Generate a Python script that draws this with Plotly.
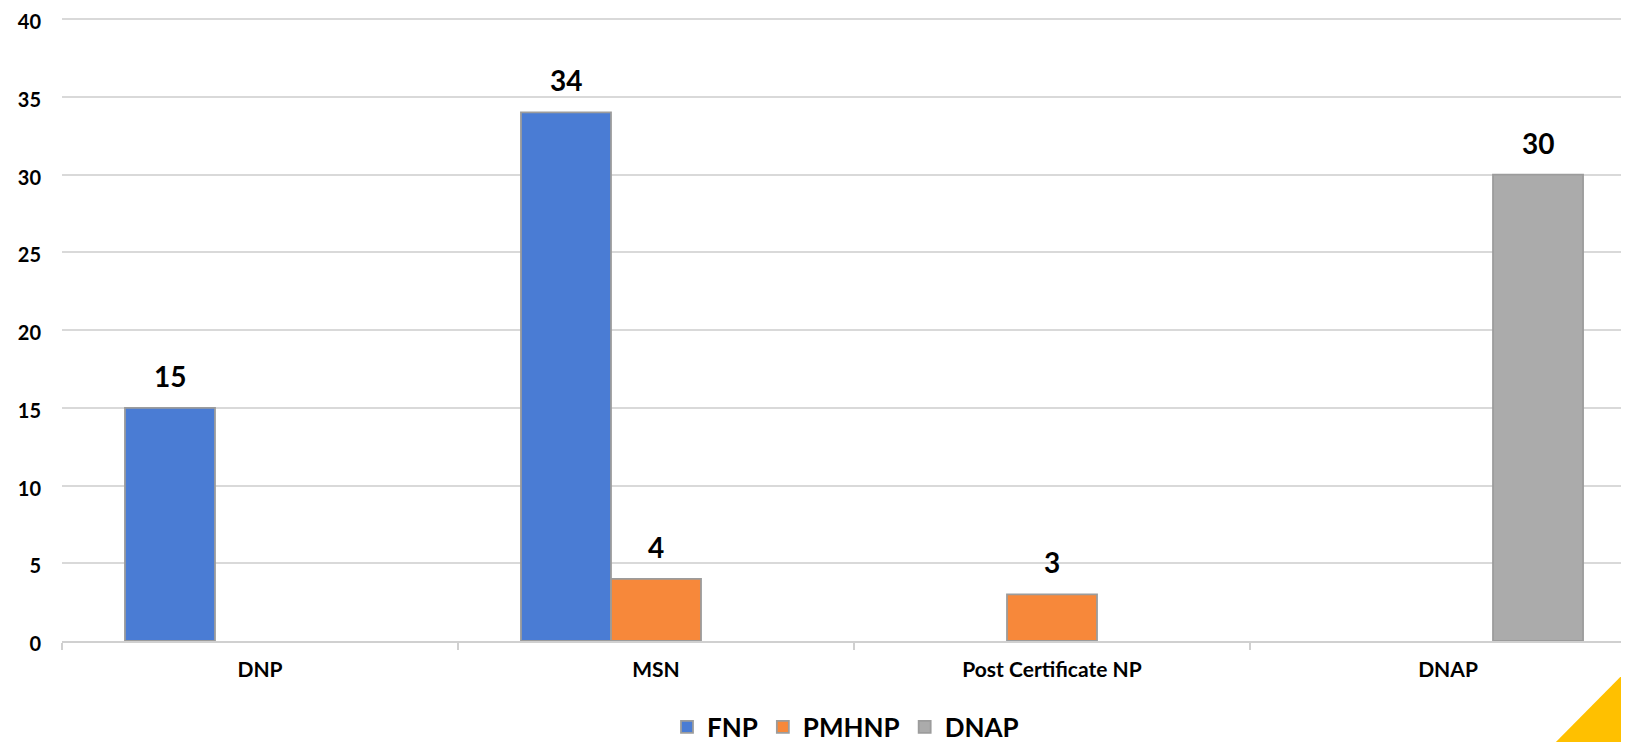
import plotly.graph_objects as go

categories = ["DNP", "MSN", "Post Certificate NP", "DNAP"]
series_names = ["FNP", "PMHNP", "DNAP"]
fnp = [15, 34, None, None]
pmhnp = [None, 4, 3, None]
dnap = [None, None, None, 30]
y_ticks = [0, 5, 10, 15, 20, 25, 30, 35, 40]
y_max = 40.2

colors = ["#4A7CD4", "#F7883A", "#ABABAB"]

# page body has an 8px margin; size the figure so it lands on the 1629x742 window
PAGE_OFF = 8
W, H = 1629 - PAGE_OFF, 742 - PAGE_OFF
px_per_unit = 622 / 40.0
ml, mr, mb = 62 - PAGE_OFF, 0, 101
mt = round(19 - PAGE_OFF - (y_max - 40) * px_per_unit)
cat_px = 396.0
plot_w = W - ml - mr
plot_h = H - mt - mb
x_span = plot_w / cat_px
bargap = 0.318
bar_px = (1 - bargap) / 3 * cat_px

FONT = "Lato, 'Open Sans', 'Liberation Sans', sans-serif"

fig = go.Figure()
all_series = [fnp, pmhnp, dnap]
for i, (name, vals) in enumerate(zip(series_names, all_series)):
    fig.add_trace(go.Bar(
        name=name, x=categories, y=vals,
        marker=dict(color=colors[i], line=dict(color="#9C9C9C", width=1.8)),
    ))

annotations = []
for i, vals in enumerate(all_series):
    for c, v in zip(categories, vals):
        if v is None:
            continue
        annotations.append(dict(
            x=c, y=v, xref="x", yref="y", text=str(v), showarrow=False,
            yanchor="bottom", xanchor="center", yshift=13,
            xshift=(i - 1) * bar_px,
            font=dict(family=FONT, size=28, color="#000000", weight="bold"),
        ))

legend_y = 1 - (727 - PAGE_OFF) / H

fig.update_layout(
    width=W, height=H,
    margin=dict(l=ml, r=mr, t=mt, b=mb, pad=0, autoexpand=False),
    paper_bgcolor="white", plot_bgcolor="white",
    barmode="group", bargap=bargap, bargroupgap=0,
    showlegend=True,
    legend=dict(orientation="h", x=0.5, xanchor="center", y=legend_y, yanchor="middle",
                yref="container",
                font=dict(family=FONT, size=26, color="#000000", weight="bold"),
                itemwidth=30, traceorder="normal"),
    annotations=annotations,
    font=dict(family=FONT, color="#000000"),
    shapes=[dict(type="path", xref="paper", yref="paper",
                 xsizemode="pixel", ysizemode="pixel", xanchor=1, yanchor=0,
                 path="M 10 -17 L 10 -110 L -82 -110 Z",
                 fillcolor="#FFC000", line=dict(width=0), layer="above")],
)
fig.update_xaxes(
    range=[-0.5, -0.5 + x_span], showgrid=False, showline=True, linecolor="#D0D0D0", linewidth=1.5,
    ticks="outside", tickson="boundaries", ticklen=7, tickcolor="#D0D0D0", tickwidth=1.5,
    tickfont=dict(family=FONT, size=21, color="#000000", weight="bold"),
    ticklabelstandoff=9,
)
fig.update_yaxes(
    range=[0, y_max], tickvals=y_ticks,
    showgrid=True, gridcolor="#D9D9D9", gridwidth=1.5, zeroline=False, showline=False,
    tickfont=dict(family=FONT, size=20, color="#000000", weight="bold"),
    ticklabelstandoff=20, ticklabeloverflow="allow", ticklabelshift=3,
)
fig.write_html("out.html")
